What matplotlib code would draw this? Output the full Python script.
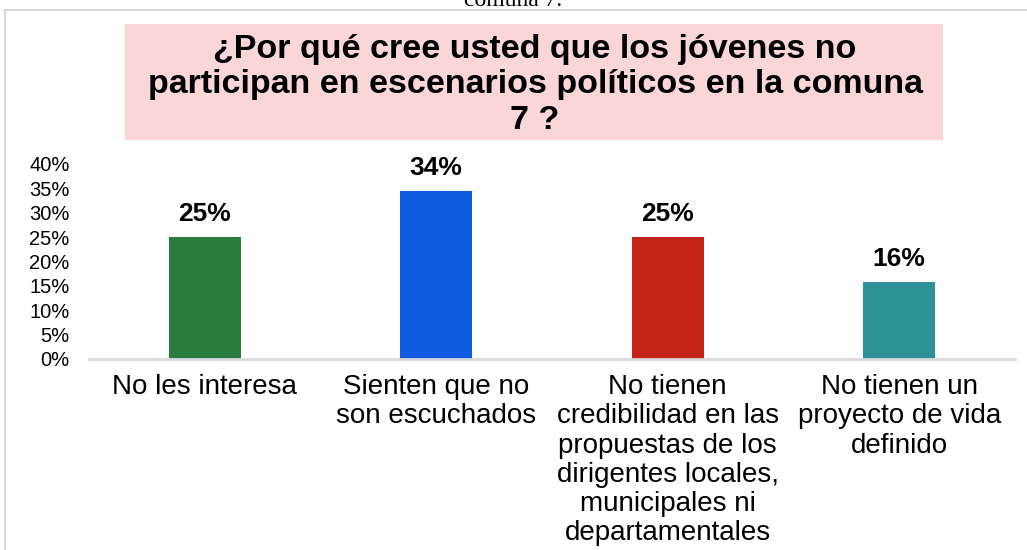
import matplotlib.pyplot as plt
from matplotlib.patches import Rectangle
from matplotlib.lines import Line2D

plt.rcParams['font.family'] = ['Liberation Sans', 'DejaVu Sans']

# Data
categories = [
    'No les interesa',
    'Sienten que no\nson escuchados',
    'No tienen\ncredibilidad en las\npropuestas de los\ndirigentes locales,\nmunicipales ni\ndepartamentales',
    'No tienen un\nproyecto de vida\ndefinido',
]
values = [0.25, 0.344, 0.25, 0.157]
colors = ['#2a7d3f', '#0f5ce0', '#c42418', '#2e9198']
yticks = [0, 0.05, 0.10, 0.15, 0.20, 0.25, 0.30, 0.35, 0.40]

title = '¿Por qué cree usted que los jóvenes no\nparticipan en escenarios políticos en la comuna\n7 ?'

fig = plt.figure(figsize=(10.27, 5.5), dpi=100)

# page frame and clipped caption text above the chart
fig.add_artist(Line2D([5 / 1027, 1], [1 - 10 / 550, 1 - 10 / 550], color='#d9d9d9', lw=1.5))
fig.add_artist(Line2D([5 / 1027, 5 / 1027], [0, 1 - 10 / 550], color='#d9d9d9', lw=1.5))
fig.text(0.5, 1 - 6 / 550, 'comuna 7.', ha='center', va='baseline',
         family='Liberation Serif', fontsize=17)

# title box
fig.add_artist(Rectangle((125 / 1027, 1 - 140 / 550), (943 - 125) / 1027, 116 / 550,
                         transform=fig.transFigure, facecolor='#fad7d6', edgecolor='none'))
fig.text(535 / 1027, 1 - 85 / 550, title, ha='center', va='center',
         fontsize=24.5, fontweight='bold', linespacing=1.2)

ax = fig.add_axes([89 / 1027, 1 - 359 / 550, (1015 - 89) / 1027, 195 / 550])
x = range(len(categories))
bars = ax.bar(x, values, width=0.31, color=colors)

for b, v in zip(bars, values):
    ax.annotate(f'{v:.0%}', (b.get_x() + b.get_width() / 2, v), xytext=(0, 8),
                textcoords='offset points', ha='center', va='bottom',
                fontsize=19, fontweight='bold')

ax.set_xlim(-0.5, len(categories) - 0.5)
ax.set_ylim(0, 0.40)
ax.set_yticks(yticks)
ax.set_yticklabels([f'{t:.0%}' for t in yticks], fontsize=14.5)
ax.set_xticks(list(x))
ax.set_xticklabels(categories, fontsize=20, linespacing=1.16, va='top')
ax.tick_params(axis='both', length=0)
ax.tick_params(axis='x', pad=11)
ax.tick_params(axis='y', pad=14)
for s in ['left', 'right', 'top']:
    ax.spines[s].set_visible(False)
ax.spines['bottom'].set_color('#d9d9d9')
ax.spines['bottom'].set_linewidth(2)

fig.savefig('out.png', dpi=100)
